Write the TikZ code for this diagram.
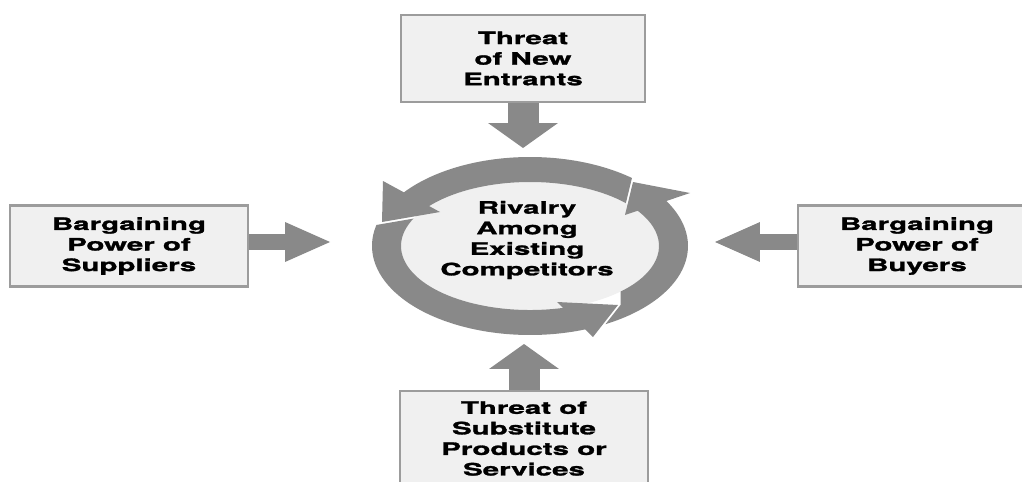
\documentclass[tikz,border=0pt]{standalone}
\usepackage{fontspec}
\newfontfamily\forcefont[FakeStretch=1.72, BoldFeatures={FakeBold=1.6}]{TeX Gyre Heros}
\usepackage{tikz}
\usetikzlibrary{arrows.meta}

\definecolor{forcegray}{HTML}{898989}
\definecolor{boxfill}{HTML}{F0F0F0}
\definecolor{boxline}{HTML}{9C9C9C}

\begin{document}
\begin{tikzpicture}[x=0.02cm, y=0.02cm,
  font=\forcefont\bfseries\fontsize{9.75}{11.7}\selectfont,
  forcebox/.style={draw=boxline, line width=1.4pt, fill=boxfill, align=center, inner sep=0pt},
  vforce/.style={draw=forcegray, line width=0.62cm, -{Triangle[width=1.4cm,length=0.5cm,line width=0pt]}},
  hforce/.style={draw=forcegray, line width=0.34cm, -{Triangle[width=0.8cm,length=0.9cm,line width=0pt]}}]

\useasboundingbox (0,0) rectangle (1022,481);

% rivalry circle
\fill[boxfill] (530,235) ellipse [x radius=129, y radius=64];

\begin{scope}
\clip (616.6,239.6) -- (635,315.5) -- (635,500) -- (300,500) -- (300,239.6) -- cycle;
\fill[forcegray, shift={(530,235)}] (36:158 and 89) arc[start angle=36, end angle=150, x radius=158, y radius=89]
  -- (150:129 and 64) arc[start angle=150, end angle=36, x radius=129, y radius=64] -- cycle;
\end{scope}

\begin{scope}
\clip (208,227) -- (614,297) -- (614,100) -- (208,100) -- cycle;
\fill[forcegray, shift={(530,235)}] (150:158 and 89) arc[start angle=150, end angle=292, x radius=158, y radius=89]
  -- (292:129 and 64) arc[start angle=292, end angle=150, x radius=129, y radius=64] -- cycle;
\end{scope}

\begin{scope}
\clip (545.5,80) -- (620.5,176) -- (620.5,400) -- (900,400) -- (900,80) -- cycle;
\fill[forcegray, shift={(530,235)}] (292:158 and 89) arc[start angle=292, end angle=396, x radius=158, y radius=89]
  -- (396:129 and 64) arc[start angle=396, end angle=292, x radius=129, y radius=64] -- cycle;
\end{scope}

\fill[forcegray] (382,259) -- (383,300) -- (440,269) -- cycle;
\fill[forcegray] (618,176) -- (593,144) -- (557,179) -- cycle;
\fill[forcegray] (633,299) -- (690,288) -- (625,266) -- cycle;

\node[align=center] (rivalry) at (527,241) {Rivalry\\Among\\Existing\\Competitors};

% forces
\node[forcebox, minimum width=4.88cm, minimum height=1.74cm] (entrants) at (523,422.5) {Threat\\of New\\Entrants};
\node[forcebox, minimum width=4.76cm, minimum height=1.62cm] (suppliers) at (129,235) {Bargaining\\Power of\\Suppliers};
\node[forcebox, minimum width=4.76cm, minimum height=1.62cm] (buyers) at (917,235) {Bargaining\\Power of\\Buyers};
\node[forcebox, minimum width=4.96cm, minimum height=1.9cm] (substitutes) at (524,42.5) {Threat of\\Substitute\\Products or\\Services};

\coordinate (entranttip) at (523,333);
\coordinate (substitutetip) at (524,137);
\coordinate (suppliertip) at (330,239);
\coordinate (buyertip) at (715,239);

\draw[vforce] (entrants.south) -- (entranttip);
\draw[vforce] (substitutes.north) -- (substitutetip);
\draw[hforce] (suppliers.east |- suppliertip) -- (suppliertip);
\draw[hforce] (buyers.west |- buyertip) -- (buyertip);

\end{tikzpicture}
\end{document}
